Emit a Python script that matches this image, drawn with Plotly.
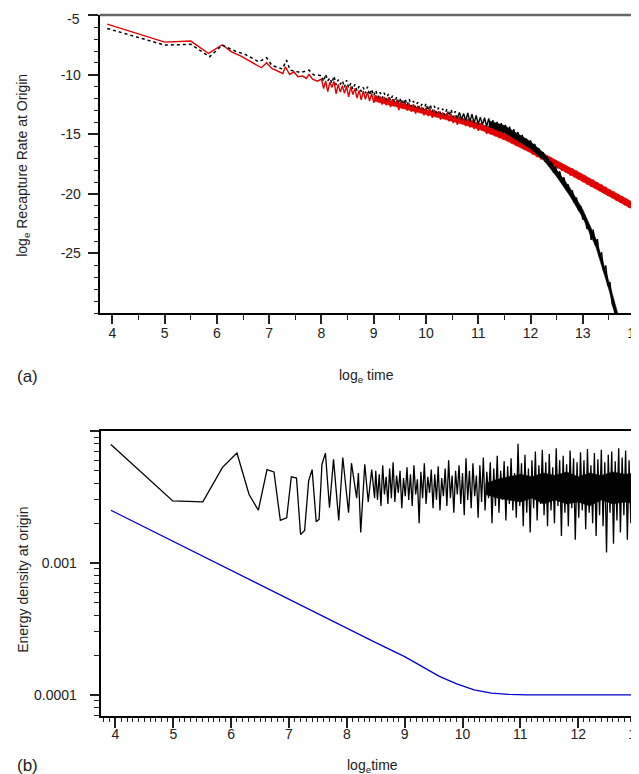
import numpy as np
import plotly.graph_objects as go

# ---------------- Panel (a): log_e recapture rate at origin ----------------
red_head_x = [3.90, 5.00, 5.50, 5.84, 6.10, 6.28, 6.45, 6.85, 6.95, 7.05, 7.26, 7.31,
              7.39, 7.47, 7.55, 7.64, 7.71, 7.76, 7.83, 7.92]
red_head_y = [-5.73, -7.25, -7.16, -8.20, -7.47, -8.06, -8.40, -9.40, -8.98, -9.46, -9.88, -9.32,
              -9.97, -9.74, -10.16, -10.10, -10.30, -9.97, -10.36, -10.53]
red_tail_start, red_tail_step = 8.00, 0.04
red_tail_y = [
    -10.35, -11.15, -10.50, -11.40, -10.60, -11.05, -10.55, -11.60, -10.80, -11.45,
    -10.90, -11.55, -10.95, -11.85, -11.00, -11.65, -11.15, -11.95, -11.30, -12.10,
    -11.35, -12.05, -11.45, -12.20, -11.55, -12.35, -11.70, -12.20, -11.80, -12.50,
    -11.85, -12.55, -11.90, -12.70, -12.05, -12.60, -12.15, -12.95, -12.25, -12.85,
    -12.30, -13.00, -12.40, -13.10, -12.45, -13.25, -12.60, -13.10, -12.70, -13.40,
    -12.75, -13.45, -12.85, -13.60, -12.95, -13.50, -13.05, -13.75, -13.15, -13.65,
    -13.20, -13.90, -13.25, -14.05, -13.40, -14.20, -13.50, -14.00, -13.65, -14.30,
    -13.70, -14.40, -13.80, -14.55, -13.95, -14.70, -14.05, -14.65, -14.25, -14.95,
    -14.30, -15.00, -14.40, -15.15, -14.60, -15.30, -14.75, -15.45, -14.95, -15.55,
    -15.05, -15.75, -15.20, -15.95, -15.40, -16.05, -15.60, -16.25, -15.85, -16.40,
    -15.95, -16.70, -16.15, -16.90, -16.35, -17.10, -16.60, -17.30, -16.85, -17.50,
    -16.95, -17.65, -17.15, -17.85, -17.35, -18.05, -17.55, -18.20, -17.75, -18.45,
    -17.85, -18.60, -18.05, -18.80, -18.25, -19.00, -18.45, -19.20, -18.70, -19.40,
    -18.80, -19.55, -19.00, -19.75, -19.20, -19.95, -19.40, -20.15, -19.65, -20.35,
    -19.80, -20.55, -20.00, -20.75, -20.20, -20.95, -20.40, -21.15, -20.65, -21.35,
    -21.10,
]
# solid core of the red band (upper / lower edge)
red_band_x = [9.0, 9.5, 10.0, 10.5, 11.0, 11.5, 12.0, 12.5, 13.0, 13.5, 14.0]
red_band_hi = [-11.80, -12.35, -12.90, -13.45, -14.05, -14.90, -16.00, -17.20, -18.35, -19.60, -20.80]
red_band_lo = [-12.20, -12.80, -13.35, -13.90, -14.55, -15.45, -16.55, -17.80, -18.95, -20.20, -21.40]

blk_head_x = [3.90, 5.00, 5.50, 5.86, 6.10, 6.35, 6.55, 6.80, 6.95, 7.05, 7.25, 7.33,
              7.40, 7.60, 7.76, 7.85]
blk_head_y = [-6.10, -7.50, -7.43, -8.48, -7.50, -8.00, -8.30, -8.90, -8.56, -9.20, -9.50, -8.76,
              -9.60, -9.80, -9.60, -10.00]
blk_tail_start, blk_tail_step = 8.00, 0.04
blk_tail_y = [
    -10.05, -10.55, -9.95, -10.50, -10.25, -10.70, -10.10, -10.85, -10.40, -10.80,
    -10.50, -11.05, -10.45, -11.10, -10.70, -11.20, -10.80, -11.35, -10.95, -11.40,
    -11.05, -11.55, -11.00, -11.70, -11.20, -11.75, -11.30, -11.90, -11.45, -11.95,
    -11.50, -12.10, -11.60, -12.15, -11.75, -12.30, -11.85, -12.40, -11.95, -12.50,
    -12.00, -12.55, -12.05, -12.65, -12.20, -12.75, -12.30, -12.85, -12.45, -12.95,
    -12.40, -13.00, -12.50, -13.10, -12.60, -13.20, -12.75, -13.25, -12.85, -13.40,
    -12.85, -13.45, -12.90, -13.55, -13.05, -13.65, -13.15, -13.75, -13.25, -13.85,
    -13.20, -13.95, -13.30, -14.05, -13.40, -14.15, -13.55, -14.20, -13.60, -14.35,
    -13.65, -14.45, -13.80, -14.60, -13.95, -14.75, -14.05, -14.85, -14.20, -15.00,
    -14.35, -15.20, -14.55, -15.40, -14.80, -15.60, -15.05, -15.85, -15.35, -16.05,
    -15.50, -16.30, -15.80, -16.60, -16.15, -16.95, -16.50, -17.30, -16.85, -17.60,
    -17.30, -18.20, -17.70, -18.60, -18.10, -19.05, -18.60, -19.55, -19.20, -20.10,
    -19.70, -20.75, -20.30, -21.40, -21.00, -22.15, -21.80, -22.95, -22.60, -23.85,
    -23.00, -24.30, -23.80, -25.30, -24.90, -26.50, -26.00, -27.70, -27.40, -29.20,
    -29.70, -30.60,
]
blk_dotted_until = 10.60
# solid core of the black band (upper / lower edge)
blk_band_x = [11.2, 11.5, 12.0, 12.25, 12.5, 12.75, 13.0, 13.25, 13.5, 13.7]
blk_band_hi = [-13.85, -14.25, -15.60, -16.55, -17.95, -19.45, -21.30, -23.75, -27.35, -30.50]
blk_band_lo = [-14.35, -14.85, -16.20, -17.15, -18.55, -20.15, -22.00, -24.45, -28.05, -31.40]

a_xticks = [4, 5, 6, 7, 8, 9, 10, 11, 12, 13, 14]
a_yticks = [-25, -20, -15, -10, -5]
a_yticktext = ["-25", "-20", "-15", "-10", ""]
a_top_label = "-5"

# ---------------- Panel (b): energy density at origin ----------------
eb_head_x = [3.92, 4.99, 5.51, 5.85, 6.10, 6.31, 6.47, 6.62, 6.74, 6.85, 6.96, 7.04, 7.13,
             7.20, 7.27, 7.34, 7.40, 7.47, 7.52, 7.57, 7.63, 7.70, 7.77, 7.86, 7.93, 8.03,
             8.08, 8.17, 8.20, 8.24, 8.31, 8.37, 8.43, 8.48]
eb_head_y = [0.0079, 0.00295, 0.00290, 0.0053, 0.0068, 0.0033, 0.00251, 0.0051, 0.0049, 0.0021,
             0.0022, 0.0045, 0.0044, 0.00164, 0.00176, 0.0042, 0.0051, 0.00205, 0.00214, 0.0056,
             0.0068, 0.00262, 0.0061, 0.0021, 0.0063, 0.0024, 0.0057, 0.0031, 0.0048, 0.0017,
             0.0056, 0.0029, 0.0051, 0.0031]
eb_tail_start, eb_tail_step = 8.50, 0.03
eb_tail_y = [
    0.0050, 0.0030, 0.0047, 0.0027, 0.0055, 0.0033, 0.0045, 0.0028, 0.0052, 0.0031,
    0.0058, 0.0029, 0.0046, 0.0034, 0.0050, 0.0026, 0.0044, 0.0032, 0.0053, 0.0030,
    0.0047, 0.0027, 0.0055, 0.0033, 0.0043, 0.0020, 0.0049, 0.0031, 0.0057, 0.0028,
    0.0045, 0.0034, 0.0051, 0.0026, 0.0047, 0.0030, 0.0054, 0.0025, 0.0044, 0.0032,
    0.0052, 0.0027, 0.0060, 0.0031, 0.0046, 0.0024, 0.0050, 0.0033, 0.0055, 0.0028,
    0.0048, 0.0023, 0.0062, 0.0030, 0.0050, 0.0026, 0.0057, 0.0032, 0.0046, 0.0022,
    0.0055, 0.0029, 0.0063, 0.0025, 0.0049, 0.0031, 0.0058, 0.0020, 0.0052, 0.0027,
    0.0065, 0.0024, 0.0050, 0.0030, 0.0059, 0.0021, 0.0054, 0.0028, 0.0062, 0.0025,
    0.0048, 0.0022, 0.0080, 0.0027, 0.0057, 0.0019, 0.0066, 0.0024, 0.0052, 0.0017,
    0.0060, 0.0026, 0.0070, 0.0021, 0.0055, 0.0028, 0.0072, 0.0023, 0.0058, 0.0019,
    0.0067, 0.0025, 0.0053, 0.0020, 0.0074, 0.0027, 0.0060, 0.0016, 0.0065, 0.0024,
    0.0056, 0.0019, 0.0071, 0.0026, 0.0062, 0.0015, 0.0058, 0.0022, 0.0069, 0.0025,
    0.0060, 0.0018, 0.0073, 0.0024, 0.0055, 0.0020, 0.0068, 0.0016, 0.0061, 0.0023,
    0.0072, 0.0019, 0.0058, 0.0012, 0.0066, 0.0024, 0.0070, 0.0014, 0.0059, 0.0021,
    0.0074, 0.0017, 0.0063, 0.0023, 0.0071, 0.0015, 0.0060, 0.0020, 0.0075, 0.0022,
    0.0055,
]
# solid core of the oscillating energy density (upper / lower edge)
eb_band_x = [10.4, 10.6, 10.8, 11.0, 11.2, 11.4, 11.6, 11.8, 12.0, 12.2, 12.4, 12.6, 12.8, 13.0]
eb_band_hi = [0.0040, 0.0043, 0.0045, 0.0047, 0.0045, 0.0048, 0.0046, 0.0049, 0.0045, 0.0048,
              0.0046, 0.0049, 0.0047, 0.0048]
eb_band_lo = [0.0033, 0.0031, 0.0030, 0.0029, 0.0031, 0.0028, 0.0030, 0.0028, 0.0029, 0.0027,
              0.0030, 0.0028, 0.0029, 0.0028]

blue_x = [3.92, 4.5, 5.0, 5.5, 6.0, 6.5, 7.0, 7.5, 8.0, 8.5, 9.0, 9.3, 9.6, 9.9, 10.2,
          10.5, 10.8, 11.1, 12.0, 13.0]
blue_y = [0.00251, 0.00187, 0.00146, 0.00113, 0.00088, 0.00068, 0.00053, 0.000413, 0.000321,
          0.000249, 0.000195, 0.000163, 0.000138, 0.000121, 0.000109, 0.000103, 0.0001008,
          0.0001, 0.0001, 0.0001]

b_xticks = [4, 5, 6, 7, 8, 9, 10, 11, 12, 13]
b_yticks = [0.0001, 0.001, 0.01]
b_yticktext = ["0.0001", "0.001", ""]

# ---------------- build ----------------
W, H = 639, 774
FONT = "Liberation Sans, Arial, Helvetica, sans-serif"


def grid(start, step, n):
    return [round(start + i * step, 4) for i in range(n)]


def band(xs, hi, lo):
    return list(xs) + list(xs)[::-1], list(hi) + list(lo)[::-1]


red_x = red_head_x + grid(red_tail_start, red_tail_step, len(red_tail_y))
red_y = red_head_y + red_tail_y
blk_tail_x = grid(blk_tail_start, blk_tail_step, len(blk_tail_y))
cut = sum(1 for v in blk_tail_x if v <= blk_dotted_until)
blk_dot_x = blk_head_x + blk_tail_x[:cut]
blk_dot_y = blk_head_y + blk_tail_y[:cut]
blk_sol_x = blk_tail_x[cut - 1:]
blk_sol_y = blk_tail_y[cut - 1:]
eb_x = eb_head_x + grid(eb_tail_start, eb_tail_step, len(eb_tail_y))
eb_y = eb_head_y + eb_tail_y


def px_x(p):
    return p / W


def px_y(p):
    return 1 - p / H


RED, BLUE = "#e00000", "#0000cc"
fig = go.Figure()
fig.add_trace(go.Scatter(x=red_x, y=red_y, mode="lines", line=dict(color=RED, width=1.4),
                         xaxis="x", yaxis="y", hoverinfo="skip"))
bx, by = band(red_band_x, red_band_hi, red_band_lo)
fig.add_trace(go.Scatter(x=bx, y=by, mode="lines", fill="toself", fillcolor=RED,
                         line=dict(color=RED, width=0.5), xaxis="x", yaxis="y", hoverinfo="skip"))
fig.add_trace(go.Scatter(x=blk_dot_x, y=blk_dot_y, mode="lines",
                         line=dict(color="black", width=1.5, dash="dot"),
                         xaxis="x", yaxis="y", hoverinfo="skip"))
fig.add_trace(go.Scatter(x=blk_sol_x, y=blk_sol_y, mode="lines", line=dict(color="black", width=1.4),
                         xaxis="x", yaxis="y", hoverinfo="skip"))
bx, by = band(blk_band_x, blk_band_hi, blk_band_lo)
fig.add_trace(go.Scatter(x=bx, y=by, mode="lines", fill="toself", fillcolor="black",
                         line=dict(color="black", width=0.5), xaxis="x", yaxis="y", hoverinfo="skip"))

fig.add_trace(go.Scatter(x=blue_x, y=blue_y, mode="lines", line=dict(color=BLUE, width=1.3),
                         xaxis="x2", yaxis="y2", hoverinfo="skip"))
fig.add_trace(go.Scatter(x=eb_x, y=eb_y, mode="lines", line=dict(color="black", width=1.3),
                         xaxis="x2", yaxis="y2", hoverinfo="skip"))
bx, by = band(eb_band_x, eb_band_hi, eb_band_lo)
fig.add_trace(go.Scatter(x=bx, y=by, mode="lines", fill="toself", fillcolor="black",
                         line=dict(color="black", width=0.5), xaxis="x2", yaxis="y2", hoverinfo="skip"))

tickfont = dict(family=FONT, size=14, color="#222")
common = dict(showgrid=False, zeroline=False, showline=True, linecolor="black", linewidth=2,
              ticks="outside", tickcolor="#222", tickwidth=1.5, tickfont=tickfont)

a_dom_x = [px_x(93), px_x(636)]
a_dom_y = [px_y(305), px_y(7)]
b_dom_x = [px_x(94), px_x(637)]
b_dom_y = [px_y(708), px_y(423)]

minor_log = [m * d for d in (1e-5, 1e-4, 1e-3) for m in range(2, 10)]

fig.update_layout(
    width=W, height=H, margin=dict(l=0, r=0, t=0, b=0),
    paper_bgcolor="white", plot_bgcolor="white", showlegend=False,
    xaxis=dict(domain=a_dom_x, anchor="y", range=[3.756, 14], tickmode="array", tickvals=a_xticks,
               ticklen=9, mirror=False, ticklabelstandoff=-3,
               minor=dict(dtick=0.5, tick0=0, ticks="outside", ticklen=5, tickwidth=1.2, tickcolor="#222"),
               **common),
    yaxis=dict(domain=a_dom_y, anchor="x", range=[-30, -4.97], tickmode="array", tickvals=a_yticks,
               ticktext=a_yticktext, ticklen=10, mirror="ticks", ticklabelstandoff=4,
               minor=dict(dtick=1, tick0=0, ticks="outside", ticklen=4, tickwidth=1.2, tickcolor="#222"),
               **common),
    xaxis2=dict(domain=b_dom_x, anchor="y2", range=[3.744, 13], tickmode="array", tickvals=b_xticks,
                ticklen=10, mirror=True, ticklabelstandoff=-6,
                minor=dict(dtick=0.1, tick0=0, ticks="outside", ticklen=4, tickwidth=1.2, tickcolor="#222"),
                **common),
    xaxis3=dict(overlaying="x2", anchor="y2", side="bottom", range=[3.744, 13], tickmode="array",
                tickvals=[v + 0.5 for v in b_xticks[:-1]], ticks="outside", ticklen=7, tickwidth=1.2,
                tickcolor="#222", showticklabels=False, showgrid=False, zeroline=False, showline=False),
    yaxis2=dict(domain=b_dom_y, anchor="x2", type="log", range=[-4.16, -2.0], tickmode="array",
                tickvals=b_yticks, ticktext=b_yticktext, ticklen=9, mirror="ticks", ticklabelstandoff=10,
                minor=dict(tickmode="array", tickvals=minor_log, ticks="outside", ticklen=5, tickwidth=1.2,
                           tickcolor="#222"),
                **common),
)

fig.add_shape(type="line", xref="paper", yref="paper", x0=a_dom_x[0], x1=a_dom_x[1],
              y0=a_dom_y[1], y1=a_dom_y[1], line=dict(color="#666", width=2.5))

# top tick label of panel (a), nudged below the frame edge as in the original
fig.add_annotation(text=a_top_label, xref="paper", yref="paper", x=px_x(75), y=px_y(11),
                   showarrow=False, xanchor="right", yanchor="middle", font=tickfont)

titlefont = dict(family=FONT, size=14, color="#222")
ann = [
    dict(text="log<sub>e</sub> Recapture Rate at Origin", x=px_x(15), y=px_y(157), textangle=-90),
    dict(text="log<sub>e</sub> time", x=px_x(364), y=px_y(368)),
    dict(text="Energy density at origin", x=px_x(15), y=px_y(572), textangle=-90),
    dict(text="log<sub>e</sub>time", x=px_x(370), y=px_y(758)),
]
for a in ann:
    fig.add_annotation(xref="paper", yref="paper", showarrow=False, xanchor="center", yanchor="middle",
                       font=titlefont, **a)
for txt, yy in (("(a)", 368), ("(b)", 757)):
    fig.add_annotation(text=txt, xref="paper", yref="paper", x=px_x(7), y=px_y(yy), showarrow=False,
                       xanchor="left", yanchor="middle", font=dict(family=FONT, size=17, color="#222"))

fig.write_html("out.html")
